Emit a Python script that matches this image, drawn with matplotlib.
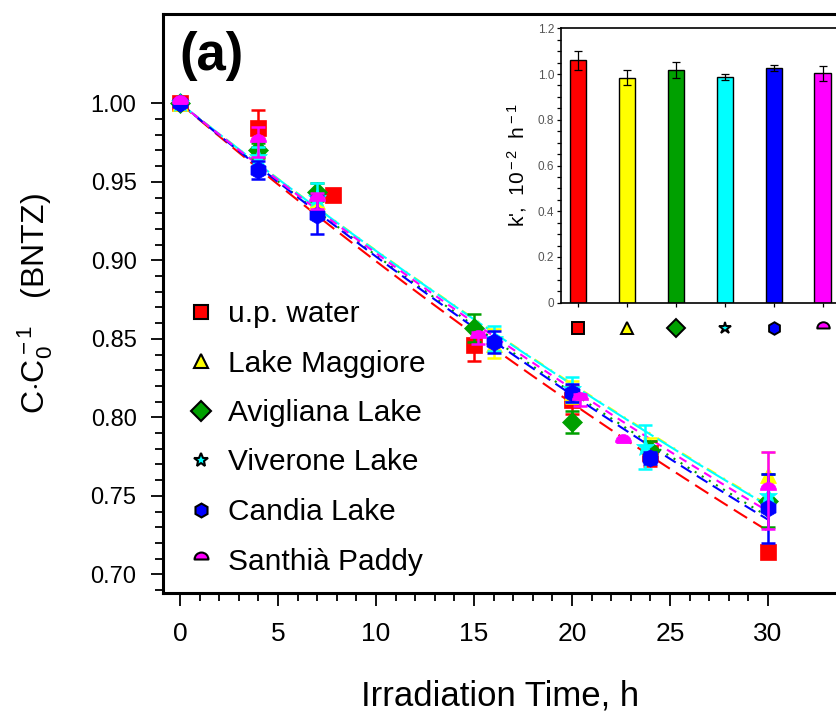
"""Photodegradation of BNTZ in different waters: C/C0 vs irradiation time,
with pseudo-first-order rate constants k' in the inset."""

import matplotlib
matplotlib.use("Agg")
import matplotlib.pyplot as plt
import numpy as np
from matplotlib.lines import Line2D
from matplotlib.path import Path
from matplotlib.ticker import FixedLocator

plt.rcParams.update({
    "font.family":      ["Liberation Sans", "DejaVu Sans"],
    "mathtext.fontset": "custom",
    "mathtext.rm":      "Liberation Sans",
    "mathtext.it":      "Liberation Sans:italic",
    "mathtext.bf":      "Liberation Sans:bold",
})

# ---- data -------------------------------------------------------------
labels = ["u.p. water", "Lake Maggiore", "Avigliana Lake",
          "Viverone Lake", "Candia Lake", "Santhià Paddy"]

t_up = [0, 4, 7.8, 15, 20, 24, 30]
c_up = [1.000, 0.984, 0.9415, 0.846, 0.811, 0.777, 0.714]
e_up = [0, 0.012, 0, 0.010, 0.009, 0.008, 0]

t_mag = [0, 4, 7, 16, 20, 24, 30]
c_mag = [1.000, 0.972, 0.938, 0.847, 0.816, 0.781, 0.763]
e_mag = [0, 0.006, 0.006, 0.009, 0.007, 0.006, 0.015]

t_avi = [0, 4, 7, 15, 20, 24, 30]
c_avi = [1.000, 0.970, 0.9435, 0.857, 0.797, 0.779, 0.747]
e_avi = [0, 0.005, 0.006, 0.009, 0.007, 0.006, 0.017]

t_viv = [0, 4, 7, 16, 20, 23.7, 30]
c_viv = [1.000, 0.966, 0.940, 0.850, 0.818, 0.781, 0.750]
e_viv = [0, 0.006, 0.009, 0.008, 0.008, 0.014, 0.005]

t_can = [0, 4, 7, 16, 20, 24, 30]
c_can = [1.000, 0.9575, 0.929, 0.848, 0.8155, 0.774, 0.742]
e_can = [0, 0.006, 0.012, 0.007, 0.006, 0.004, 0.022]

t_san = [0, 4, 7, 15.2, 20.4, 22.6, 30]
c_san = [1.000, 0.9753, 0.938, 0.8505, 0.811, 0.784, 0.7535]
e_san = [0, 0.0095, 0.005, 0.004, 0.004, 0, 0.0245]

# inset: k', 10^-2 h^-1
k_rate = [1.060, 0.984, 1.018, 0.987, 1.027, 1.003]
k_err = [0.042, 0.034, 0.036, 0.015, 0.013, 0.032]

# ---- style ------------------------------------------------------------
HALF = Path.wedge(0, 180)   # upper half disc, flat edge on the point
colors = ["#ff0000", "#ffff00", "#00a000", "#00ffff", "#0000ff", "#ff00ff"]
markers = ["s", "^", "D", "*", "h", HALF]
msizes = [11.5, 12, 10.5, 14, 12.5, 11.5]
dashes = [(0, (7.5, 3.5)), (0, (5, 4, 1, 4)), (0, (1, 3)),
          (0, (12, 2)), (0, (6, 3)), (0, (4, 3))]

series = [(t_up, c_up, e_up), (t_mag, c_mag, e_mag), (t_avi, c_avi, e_avi),
          (t_viv, c_viv, e_viv), (t_can, c_can, e_can), (t_san, c_san, e_san)]

W, H = 837, 715
fig = plt.figure(figsize=(W / 100, H / 100), dpi=100)
ax = fig.add_axes([163 / W, 1 - 593 / H, 1 - 163 / W, (593 - 14) / H])

# first-order fit curves C/C0 = exp(-k' t) using k' from the inset
t_fit = np.linspace(0, 30, 61)
for k, col, ls in zip(k_rate, colors, dashes):
    ax.plot(t_fit, np.exp(-k * 1e-2 * t_fit), color=col, lw=1.5,
            linestyle=ls, zorder=2)

draw_order = [0, 1, 2, 3, 5, 4]
for i in draw_order:
    t, c, e = series[i]
    ax.errorbar(t, c, yerr=e, fmt="none", ecolor=colors[i], elinewidth=1.8,
                capsize=4.7, capthick=1.8, zorder=3 + i * 0.1)
    ax.plot(t, c, ls="none", marker=markers[i], ms=msizes[i],
            mfc=colors[i], mec=colors[i], mew=0.5, zorder=3.05 + i * 0.1)

ax.set_xlim(-0.867, 33.52)
ax.set_ylim(0.6881, 1.0569)
ax.spines["right"].set_visible(False)
for s in ("left", "bottom", "top"):
    ax.spines[s].set_linewidth(2.2)

ax.xaxis.set_major_locator(FixedLocator(range(0, 31, 5)))
ax.xaxis.set_minor_locator(FixedLocator(range(0, 31)))
ax.yaxis.set_major_locator(FixedLocator(np.arange(0.70, 1.001, 0.05)))
ax.yaxis.set_minor_locator(FixedLocator(np.arange(0.69, 1.001, 0.01)))
ax.yaxis.set_major_formatter(lambda v, p: f"{v:.2f}")
ax.tick_params(which="major", direction="out", length=9, width=1.3)
ax.tick_params(which="minor", direction="out", length=5.5, width=1.3)
ax.tick_params(axis="x", which="major", labelsize=19, pad=12)
ax.tick_params(axis="y", which="major", labelsize=17, pad=10)

ax.set_xlabel("Irradiation Time, h", fontsize=25)
ax.xaxis.set_label_coords(0.5, -0.150)
ax.set_ylabel(r"C$\cdot$C$_{\rm 0}^{\rm -1}$   (BNTZ)", fontsize=23)
ax.yaxis.set_label_coords(-0.160, 0.5)

fig.text(212 / W, 1 - 56 / H, "(a)", fontsize=38, fontweight="bold",
         ha="center", va="center")

handles = [Line2D([], [], ls="none", marker=m, ms=10, mfc=c, mec="k",
                  mew=1.5) for m, c in zip(markers, colors)]
ax.legend(handles, labels, loc="upper left",
          bbox_to_anchor=(189 / W, 1 - 300 / H),
          bbox_transform=fig.transFigure, frameon=False, fontsize=21.5,
          handlelength=0.8, handletextpad=0.5, labelspacing=0.72,
          borderpad=0, borderaxespad=0)

# ---- inset ------------------------------------------------------------
ins = fig.add_axes([561 / W, 1 - 302.7 / H, 1 - 561 / W, (302.7 - 28.3) / H])
xb = np.arange(len(k_rate))
ins.bar(xb, k_rate, width=0.34, color=colors, edgecolor="k", linewidth=1.0,
        zorder=2)
ins.errorbar(xb, k_rate, yerr=k_err, fmt="none", ecolor="k", elinewidth=0.9,
             capsize=3, capthick=0.9, zorder=3)
ins.set_xlim(-0.35, 5.29)
ins.set_ylim(0, 1.2)
ins.spines["right"].set_visible(False)
for s in ("left", "bottom", "top"):
    ins.spines[s].set_linewidth(1.2)
ins.set_xticks(xb)
ins.set_xticklabels([])
ins.yaxis.set_major_locator(FixedLocator(np.arange(0, 1.21, 0.2)))
ins.yaxis.set_minor_locator(FixedLocator(np.arange(0, 1.21, 0.05)))
ins.yaxis.set_major_formatter(lambda v, p: "0" if v == 0 else f"{v:.1f}")
ins.tick_params(which="both", direction="out", length=3, width=0.9,
                labelsize=8.5, labelcolor="#555555", pad=2)
ins.set_ylabel(r"k',  10$^{\rm -2}$  h$^{\rm -1}$", fontsize=15, labelpad=6)

for x, m, c in zip(xb, markers, colors):
    ins.plot([x], [-0.092], transform=ins.get_xaxis_transform(), clip_on=False,
             ls="none", marker=m, ms=9, mfc=c, mec="k", mew=1.4)

fig.savefig("out.png", dpi=100)
